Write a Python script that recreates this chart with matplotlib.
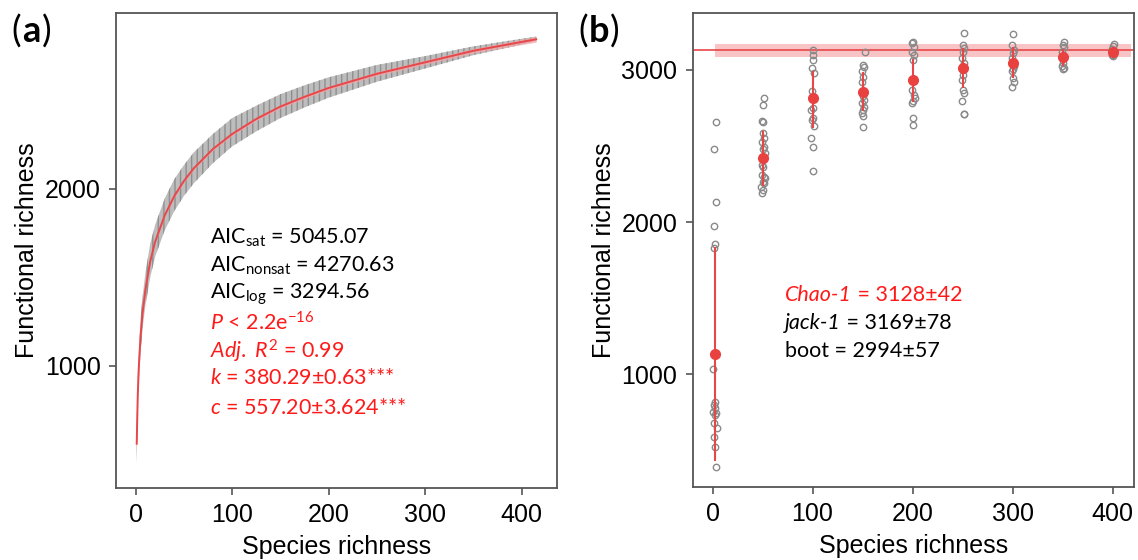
import matplotlib
matplotlib.use("Agg")
import matplotlib.pyplot as plt
import numpy as np

plt.rcParams['font.family'] = ['Liberation Sans', 'DejaVu Sans']
plt.rcParams['mathtext.fontset'] = 'custom'
plt.rcParams['mathtext.rm'] = 'Lato'
plt.rcParams['mathtext.it'] = 'Lato:italic'
plt.rcParams['mathtext.bf'] = 'Lato:bold'

# ---------------- Panel (a) data: accumulation curve ----------------
curve_x = [1, 2, 3, 5, 7, 10, 15, 20, 30, 40, 50, 60, 80, 100, 125, 150,
           175, 200, 250, 300, 350, 400, 415]
curve_y = [560, 820, 975, 1170, 1295, 1430, 1590, 1700, 1850, 1960, 2045,
           2115, 2225, 2310, 2395, 2465, 2520, 2570, 2650, 2715, 2780, 2830, 2845]
band_lo = [450, 720, 880, 1080, 1210, 1340, 1500, 1615, 1765, 1875, 1960,
           2030, 2145, 2240, 2325, 2400, 2460, 2515, 2605, 2680, 2755, 2815, 2835]
band_hi = [680, 930, 1070, 1270, 1390, 1525, 1690, 1795, 1945, 2055, 2135,
           2205, 2310, 2400, 2470, 2535, 2585, 2630, 2700, 2750, 2805, 2848, 2860]
ci_half = [8, 8, 8, 8, 8, 8, 8, 8, 8, 8, 8, 8, 8, 8, 9, 9, 10, 10, 11, 12, 13, 15, 16]

# ---------------- Panel (b) data: rarefied subsamples ----------------
group_x = [2, 50, 100, 150, 200, 250, 300, 350, 400]
group_mean = [1133, 2420, 2814, 2857, 2934, 3011, 3048, 3081, 3120]
group_lo = [433, 2240, 2620, 2727, 2790, 2881, 2948, 3026, 3095]
group_hi = [1833, 2600, 2995, 2987, 3070, 3141, 3148, 3136, 3145]

pts_x_1 = [3, 1, 3, 1, 2, 1, 0, 2, 1, 2, 0, 3, 2, 1, 4, 1, 2, 3]
pts_y_1 = [2660, 2479, 2135, 1977, 1857, 1829, 1035, 820, 798, 777, 754,
           744, 733, 682, 649, 586, 520, 393]
pts_x_50 = [51, 50, 49, 50, 50, 51, 49, 51, 50, 52, 49, 50, 49, 51, 52, 50, 51, 48, 50, 49]
pts_y_50 = [2814, 2770, 2665, 2656, 2584, 2551, 2523, 2496, 2479, 2453,
            2376, 2361, 2310, 2299, 2288, 2266, 2255, 2233, 2212, 2190]
pts_x_100 = [100, 100, 100, 99, 101, 99, 100, 98, 100, 99, 101, 98, 100, 100]
pts_y_100 = [3127, 3099, 3066, 3011, 2982, 2864, 2748, 2737, 2683, 2671,
             2628, 2555, 2496, 2338]
pts_x_150 = [152, 150, 151, 149, 150, 149, 150, 151, 149, 151, 150, 149, 150, 150]
pts_y_150 = [3120, 3033, 3018, 2989, 2956, 2923, 2825, 2803, 2781, 2759,
             2737, 2715, 2698, 2623]
pts_x_200 = [200, 199, 201, 199, 201, 200, 199, 201, 202, 200, 199, 200, 200]
pts_y_200 = [3186, 3175, 3153, 3120, 3099, 3066, 2869, 2836, 2814, 2792,
             2781, 2683, 2639]
pts_x_250 = [251, 250, 251, 250, 249, 251, 250, 249, 250, 251, 249, 251, 251]
pts_y_250 = [3241, 3164, 3142, 3120, 3077, 3044, 2967, 2934, 2869, 2847,
             2792, 2711, 2711]
pts_x_300 = [300, 299, 301, 300, 299, 301, 300, 299, 300, 301, 299]
pts_y_300 = [3236, 3164, 3131, 3110, 3077, 3022, 3004, 2989, 2945, 2923, 2890]
pts_x_350 = [351, 350, 351, 349, 350, 349, 350, 351]
pts_y_350 = [3180, 3164, 3153, 3120, 3044, 3022, 3004, 3012]
pts_x_400 = [401, 400, 399, 401, 400, 399]
pts_y_400 = [3171, 3158, 3136, 3105, 3092, 3100]

pts_x = [pts_x_1, pts_x_50, pts_x_100, pts_x_150, pts_x_200, pts_x_250,
         pts_x_300, pts_x_350, pts_x_400]
pts_y = [pts_y_1, pts_y_50, pts_y_100, pts_y_150, pts_y_200, pts_y_250,
         pts_y_300, pts_y_350, pts_y_400]

chao_est = 3128
chao_se = 42
chao_span = [2, 418]

xticks = [0, 100, 200, 300, 400]
yticks_a = [1000, 2000]
yticks_b = [1000, 2000, 3000]

RED = '#E8474A'
TXT_RED = '#FF1A1A'
FRAME = '#555555'

fig = plt.figure(figsize=(11.38, 5.6), dpi=100)
ax1 = fig.add_axes([0.102, 0.129, 0.3875, 0.848])
ax2 = fig.add_axes([0.6087, 0.131, 0.3878, 0.846])

def style(ax):
    for s in ax.spines.values():
        s.set_color(FRAME)
        s.set_linewidth(1.3)
    ax.tick_params(direction='out', length=5, width=1.2, color=FRAME,
                   labelsize=18, labelcolor='black', pad=6)
    ax.set_xlabel('Species richness', fontsize=18, labelpad=6)
    ax.set_ylabel('Functional richness', fontsize=18, labelpad=4)

def rich_line(ax, x, y, segments, color, size=15.5):
    """Draw consecutive text segments (text, italic?) on one baseline."""
    first, it = segments[0]
    prev = ax.text(x, y, first, transform=ax.transAxes, color=color, fontsize=size,
                   family='Lato', style='italic' if it else 'normal',
                   va='center', ha='left')
    for txt, it in segments[1:]:
        prev = ax.annotate(txt, xy=(1, 0), xycoords=prev, color=color, fontsize=size,
                           family='Lato', style='italic' if it else 'normal',
                           va='bottom', ha='left')
    return prev

# ---- panel a ----
ax1.fill_between(curve_x, band_lo, band_hi, facecolor='#bdbdbd',
                 edgecolor='#8f8f8f', hatch='|||', linewidth=0)
cy = np.array(curve_y)
ch = np.array(ci_half)
ax1.fill_between(curve_x, cy - ch, cy + ch, color='#F6A5A8', alpha=0.7, linewidth=0)
ax1.plot(curve_x, curve_y, color=RED, lw=1.4)
ax1.set_xlim(-20.4, 436.6)
ax1.set_ylim(311, 2994)
ax1.set_xticks(xticks)
ax1.set_yticks(yticks_a)
style(ax1)

lines_a = [
    (r'AIC$_{\mathrm{sat}}$ = 5045.07', 'black'),
    (r'AIC$_{\mathrm{nonsat}}$ = 4270.63', 'black'),
    (r'AIC$_{\mathrm{log}}$ = 3294.56', 'black'),
    (r'$\mathit{P}$ < 2.2e$^{\mathrm{-16}}$', TXT_RED),
    (r'$\mathit{Adj.}$ $\mathit{R}^{2}$ = 0.99', TXT_RED),
    (r'$\mathit{k}$ = 380.29$\pm$0.63***', TXT_RED),
    (r'$\mathit{c}$ = 557.20$\pm$3.624***', TXT_RED),
]
ya = [0.526, 0.468, 0.407, 0.347, 0.288, 0.231, 0.168]
for (t, c), y in zip(lines_a, ya):
    ax1.text(0.213, y, t, transform=ax1.transAxes, color=c, fontsize=15.5,
             family='Lato', va='center', ha='left')

# ---- panel b ----
ax2.axhline(chao_est, color=RED, lw=1.2)
ax2.fill_between(chao_span, chao_est - chao_se, chao_est + chao_se,
                 color='#F6A5A8', alpha=0.65, linewidth=0)
for xs, ys in zip(pts_x, pts_y):
    ax2.plot(xs, ys, linestyle='none', marker='o', markersize=4.6,
             markerfacecolor='none', markeredgecolor='#8a8a8a', markeredgewidth=1.0)
ax2.vlines(group_x, group_lo, group_hi, color=RED, lw=1.5)
ax2.plot(group_x, group_mean, linestyle='none', marker='o', markersize=7,
         color='#E8413F')
ax2.set_xlim(-19.8, 421.5)
ax2.set_ylim(262, 3374)
ax2.set_xticks(xticks)
ax2.set_yticks(yticks_b)
style(ax2)

fig.canvas.draw()
rich_line(ax2, 0.209, 0.405, [('Chao-1', True), (' = 3128\u00b142', False)], TXT_RED)
rich_line(ax2, 0.209, 0.346, [('jack-1', True), (' = 3169\u00b178', False)], 'black')
rich_line(ax2, 0.209, 0.286, [('boot = 2994\u00b157', False)], 'black')

# panel labels
for xl, lab in [(0.010, 'a'), (0.508, 'b')]:
    t1 = fig.text(xl, 0.943, '(', fontsize=26, family='Lato', va='center', ha='left')
    fig.canvas.draw()
    t2 = fig.text(0, 0.943, lab, fontsize=26, family='Lato', weight='bold', va='center')
    bb = t1.get_window_extent()
    t2.set_x((bb.x1 + 1) / fig.bbox.width)
    fig.canvas.draw()
    bb2 = t2.get_window_extent()
    fig.text((bb2.x1 + 1) / fig.bbox.width, 0.943, ')', fontsize=26, family='Lato',
             va='center', ha='left')

fig.savefig('out.png', dpi=100)
